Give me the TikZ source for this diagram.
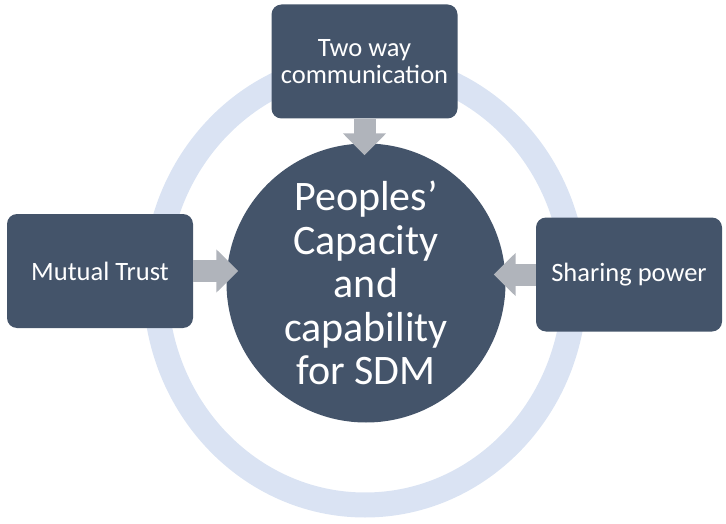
\documentclass[tikz,border=0pt]{standalone}
\usepackage{fontspec}
\setmainfont{Carlito}
\usepackage{tikz}
\usetikzlibrary{arrows.meta,positioning}
\definecolor{sdmslate}{HTML}{44546A}
\definecolor{sdmring}{HTML}{DAE3F3}
\definecolor{sdmgray}{HTML}{B0B4BB}
\tikzset{
  factor/.style={rectangle,rounded corners=10pt,fill=sdmslate,text=white,align=center,minimum width=186pt,minimum height=114pt,inner sep=2pt,font=\fontsize{26.5}{26.5}\selectfont},
  core/.style={circle,fill=sdmslate,text=white,align=center,minimum size=279pt,inner sep=0pt,font=\fontsize{42}{43.5}\selectfont},
  ring/.style={draw=sdmring,line width=25pt},
  push/.style={-{Triangle[length=22pt,width=42pt]},draw=sdmgray,line width=22pt,shorten >=-12pt},
}
\begin{document}
\begin{tikzpicture}[x=1pt,y=-1pt]
  \useasboundingbox (0,0) rectangle (726,524);
  % outer ring behind everything
  \draw[ring] (365,284.5) ellipse [x radius=209.5, y radius=220.5];
  \node[core] (sdm) at (366,283) {Peoples’\\Capacity\\and\\capability\\for SDM};
  \node[factor] (talk) at (364.5,61.5) {Two way\\communication};
  \node[factor] (trust) at (100,271) {Mutual Trust};
  \node[factor] (power) at (629,274.5) {Sharing power};
  % arrows into the centre
  \draw[push] (talk.south) -- (talk.south |- sdm.north);
  \draw[push] (trust.east) -- (trust.east -| sdm.west);
  \draw[push] (power.west) -- (power.west -| sdm.east);
\end{tikzpicture}
\end{document}
